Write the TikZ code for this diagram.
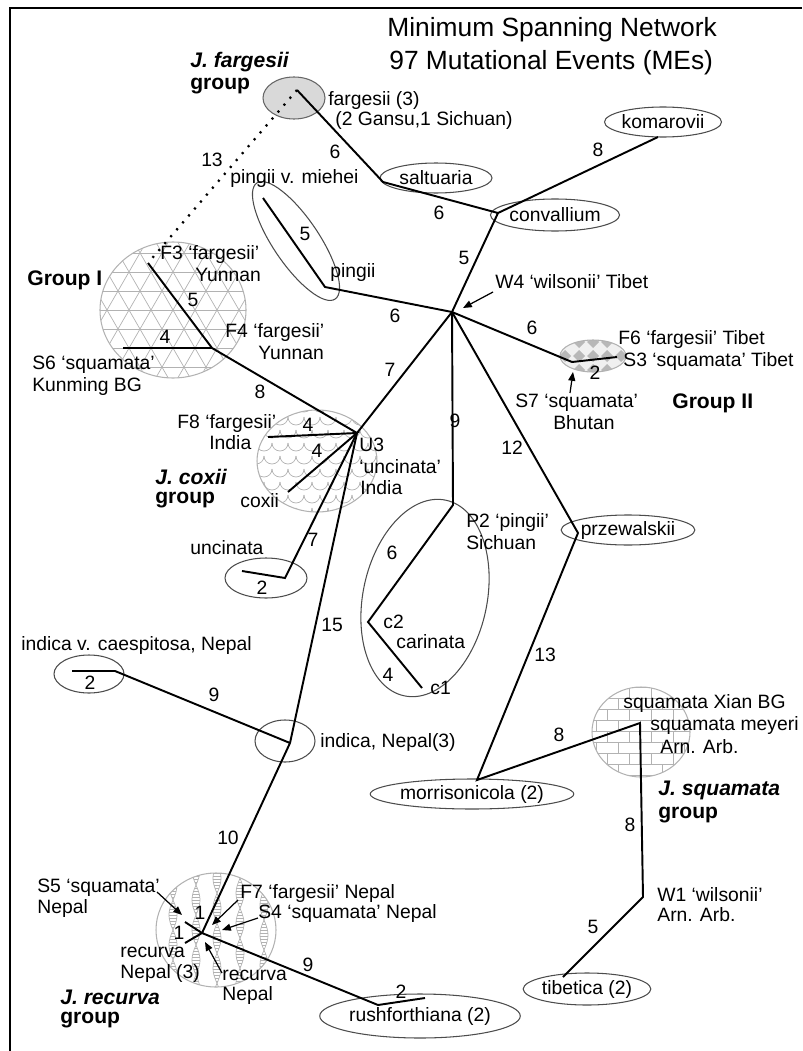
\documentclass[tikz,border=0pt]{standalone}
\usepackage{fontspec}
\setmainfont{Liberation Sans}
\usetikzlibrary{arrows.meta,shapes.geometric}
\def\px{0.02cm}

\begin{document}
\begin{tikzpicture}[x=0.02cm, y=-0.02cm,
		branch/.style={line width=1.1pt},
		pat/.style={black!30, line width=0.4pt},
		ring/.style={ellipse, draw=black!70, line width=0.6pt, inner sep=0pt},
		taxon/.style={ring, font=\fontsize{11}{12}\selectfont},
		lbl/.style={anchor=west, inner sep=0pt, font=\fontsize{11}{12}\selectfont},
		num/.style={inner sep=0pt, font=\fontsize{11}{12}\selectfont},
		grp/.style={anchor=west, inner sep=0pt, font=\fontsize{12}{13}\selectfont\bfseries},
		pointer/.style={-{Triangle[length=5pt,width=4pt]}, line width=0.7pt}]
		%%%%% START %%%%%
		
		\useasboundingbox (0,0) rectangle (802,1051);
		\draw[line width=1.2pt] (10,1051) -- (10,8) -- (802,8);
		
		\node[inner sep=0pt, font=\fontsize{15}{16}\selectfont, anchor=west] (title) at (387,30) {Minimum Spanning Network};
		\node[inner sep=0pt, font=\fontsize{15}{16}\selectfont, anchor=west] (subtitle) at (389,63) {97 Mutational Events (MEs)};
		
		% group I
		\begin{scope}
			\clip (173,310) ellipse [x radius=73, y radius=68];
			\foreach \k in {-9,...,9} {
				\draw[pat] (90,{310+\k*19.05}) -- (260,{310+\k*19.05});
				\draw[pat] ({73+\k*22},136.8) -- ++(200,346.4);
				\draw[pat] ({273+\k*22},136.8) -- ++(-200,346.4);
			}
		\end{scope}
		\node[ring, draw=black!30, minimum width=146*\px, minimum height=136*\px] (groupone) at (173,310) {};
		
		% coxii
		\begin{scope}
			\clip (317,461) ellipse [x radius=60, y radius=51];
			\foreach \r in {0,...,8}
				\foreach \c in {0,...,8}
					\draw[pat] ({248+\c*16+mod(\r,2)*8},{404+\r*13}) arc (180:0:8);
		\end{scope}
		\node[ring, draw=black!30, minimum width=120*\px, minimum height=102*\px] (coxring) at (317,461) {};
		
		% group II
		\begin{scope}
			\clip (593,356) ellipse [x radius=33, y radius=16];
			\fill[black!6] (558,338) rectangle (628,374);
			\foreach \i in {-3,...,3}
				\foreach \j in {-2,...,2}
					\fill[black!28] ({587+\i*14},{356+\j*14}) -- ++(6,6) -- ++(6,-6) -- ++(-6,-6) -- cycle;
		\end{scope}
		\node[ring, draw=black!30, minimum width=66*\px, minimum height=32*\px] (grouptwo) at (593,356) {};
		
		% squamata
		\begin{scope}
			\clip (641,732) ellipse [x radius=49, y radius=45];
			\foreach \r in {0,...,8} {
				\draw[pat] (585,{687+\r*11}) -- (700,{687+\r*11});
				\foreach \c in {0,...,5}
					\draw[pat] ({585+\c*22+mod(\r,2)*11},{687+\r*11}) -- ++(0,11);
			}
		\end{scope}
		\node[ring, draw=black!30, minimum width=98*\px, minimum height=90*\px] (squring) at (641,732) {};
		
		% recurva
		\begin{scope}
			\clip (216,930) ellipse [x radius=60, y radius=57];
			\foreach \cx/\ph in {173/0,196/90,217/40,240/130,264/60} {
				\foreach \y in {870,873,...,990}
					\draw[pat] ({\cx-4*sin(6*\y+\ph)},\y) -- ({\cx+4*sin(6*\y+\ph)},\y);
				\draw[pat] plot[domain=870:990, samples=40] ({\cx+4*sin(6*\x+\ph)},\x);
				\draw[pat] plot[domain=870:990, samples=40] ({\cx-4*sin(6*\x+\ph)},\x);
			}
		\end{scope}
		\node[ring, draw=black!30, minimum width=120*\px, minimum height=114*\px] (recring) at (216,930) {};
		
		\node[ring, fill=black!15, draw=black!60, minimum width=62*\px, minimum height=42*\px] (fargring) at (294,98) {};
		\node[ring, rotate=-56, minimum width=140*\px, minimum height=46*\px] (pingring) at (296,241) {};
		\node[ring, rotate=78, minimum width=200*\px, minimum height=124*\px] (carring) at (425,598) {};
		\node[ring, minimum width=82*\px, minimum height=40*\px] (uncring) at (266,578) {};
		\node[ring, minimum width=70*\px, minimum height=38*\px] (caesring) at (89,674) {};
		\node[ring, minimum width=60*\px, minimum height=42*\px] (indring) at (285,741) {};
		
		\node[taxon, minimum width=112*\px, minimum height=30*\px] (saltuaria) at (436,178) {saltuaria};
		\node[taxon, minimum width=114*\px, minimum height=32*\px] (convallium) at (555,215) {convallium};
		\node[taxon, minimum width=116*\px, minimum height=30*\px] (komarovii) at (663,122) {komarovii};
		\node[taxon, minimum width=126*\px, minimum height=30*\px] (przewalskii) at (628,530) {przewalskii};
		\node[taxon, minimum width=168*\px, minimum height=30*\px] (morrisonicola) at (472,794) {morrisonicola (2)};
		\node[taxon, minimum width=126*\px, minimum height=32*\px] (tibetica) at (587,989) {tibetica (2)};
		\node[taxon, minimum width=166*\px, minimum height=44*\px] (rushforthiana) at (420,1016) {rushforthiana (2)};
		
		\coordinate (farg) at (297,90);
		\coordinate (salt) at (383,182);
		\coordinate (conv) at (498,213);
		\coordinate (koma) at (658,137);
		\coordinate (wfour) at (452,312);
		\coordinate (ping) at (325,287);
		\coordinate (mieh) at (263,198);
		\coordinate (fsix) at (572,362);
		\coordinate (sthree) at (617,357);
		\coordinate (uthree) at (357,433);
		\coordinate (ptwo) at (453,505);
		\coordinate (ctwo) at (368,622);
		\coordinate (cone) at (422,688);
		\coordinate (przw) at (578,533);
		\coordinate (morr) at (477,780);
		\coordinate (xian) at (640,723);
		\coordinate (wone) at (643,897);
		\coordinate (tibe) at (563,977);
		\coordinate (fthree) at (148,263);
		\coordinate (ffour) at (212,348);
		\coordinate (ssix) at (123,348);
		\coordinate (feight) at (268,437);
		\coordinate (coxi) at (288,492);
		\coordinate (unci) at (285,578);
		\coordinate (uncend) at (242,571);
		\coordinate (indi) at (290,743);
		\coordinate (caes) at (115,671);
		\coordinate (caesend) at (72,671);
		\coordinate (recu) at (202,933);
		\coordinate (sfive) at (185,922);
		\coordinate (recnep) at (185,943);
		\coordinate (rush) at (378,1005);
		\coordinate (rushend) at (425,998);
		
		\draw[branch] (farg) -- (salt) -- (conv) -- (wfour);
		\draw[branch] (conv) -- (koma);
		\draw[line width=1.3pt, dash pattern=on 1.2pt off 4pt] (farg) -- (fthree);
		\draw[branch] (wfour) -- (ping) -- (mieh);
		\draw[branch] (wfour) -- (fsix) -- (sthree);
		\draw[branch] (wfour) -- (uthree);
		\draw[branch] (wfour) -- (ptwo) -- (ctwo) -- (cone);
		\draw[branch] (wfour) -- (przw) -- (morr) -- (xian) -- (wone) -- (tibe);
		\draw[branch] (fthree) -- (ffour) -- (uthree);
		\draw[branch] (ssix) -- (ffour);
		\draw[branch] (feight) -- (uthree) -- (coxi);
		\draw[branch] (uthree) -- (unci) -- (uncend);
		\draw[branch] (uthree) -- (indi) -- (recu) -- (rush) -- (rushend);
		\draw[branch] (indi) -- (caes) -- (caesend);
		\draw[branch] (sfive) -- (recu) -- (recnep);
		
		\coordinate (wfourarr) at (493,292);
		\coordinate (wfourtip) at (463,308);
		\coordinate (ssevenarr) at (570,393);
		\coordinate (sseventip) at (573,372);
		\coordinate (sfivearr) at (157,892);
		\coordinate (sfivetip) at (182,915);
		\coordinate (fsevenarr) at (238,900);
		\coordinate (fseventip) at (212,925);
		\coordinate (sfourarr) at (258,918);
		\coordinate (sfourtip) at (222,930);
		\coordinate (recarr) at (222,973);
		\coordinate (rectip) at (205,942);
		\draw[pointer] (wfourarr) -- (wfourtip);
		\draw[pointer] (ssevenarr) -- (sseventip);
		\draw[pointer] (sfivearr) -- (sfivetip);
		\draw[pointer] (fsevenarr) -- (fseventip);
		\draw[pointer] (sfourarr) -- (sfourtip);
		\draw[pointer] (recarr) -- (rectip);
		
		\node[num] (w1) at (335,152) {6};
		\node[num] (w2) at (439,213) {6};
		\node[num] (w3) at (598,150) {8};
		\node[num] (w4) at (464,258) {5};
		\node[num] (w5) at (305,234) {5};
		\node[num] (w6) at (212,160) {13};
		\node[num] (w7) at (395,316) {6};
		\node[num] (w8) at (532,328) {6};
		\node[num] (w9) at (595,373) {2};
		\node[num] (w10) at (193,300) {5};
		\node[num] (w11) at (165,337) {4};
		\node[num] (w12) at (260,392) {8};
		\node[num] (w13) at (390,370) {7};
		\node[num] (w14) at (308,425) {4};
		\node[num] (w15) at (317,451) {4};
		\node[num] (w16) at (455,421) {9};
		\node[num] (w17) at (512,448) {12};
		\node[num] (w18) at (313,540) {7};
		\node[num] (w19) at (262,588) {2};
		\node[num] (w20) at (332,625) {15};
		\node[num] (w21) at (392,553) {6};
		\node[num] (w22) at (388,675) {4};
		\node[num] (w23) at (90,683) {2};
		\node[num] (w24) at (214,695) {9};
		\node[num] (w25) at (545,655) {13};
		\node[num] (w26) at (559,735) {8};
		\node[num] (w27) at (630,825) {8};
		\node[num] (w28) at (593,927) {5};
		\node[num] (w29) at (228,838) {10};
		\node[num] (w30) at (200,913) {1};
		\node[num] (w31) at (179,933) {1};
		\node[num] (w32) at (308,965) {9};
		\node[num] (w33) at (401,992) {2};
		
		\node[grp, font=\fontsize{12}{13}\selectfont\bfseries\itshape] (fargname) at (190,62) {J. fargesii};
		\node[grp] (fargword) at (190,86) {group};
		\node[lbl] (fargtxt) at (328,101) {fargesii (3)};
		\node[lbl] (fargsub) at (335,120) {(2 Gansu,1 Sichuan)};
		\node[lbl] (miehtxt) at (230,179) {pingii v. miehei};
		\node[lbl] (pingtxt) at (330,273) {pingii};
		\node[lbl] (wfourtxt) at (495,282) {W4 `wilsonii' Tibet};
		\node[lbl] (fsixtxt) at (618,340) {F6 `fargesii' Tibet};
		\node[lbl] (sthreetxt) at (623,362) {S3 `squamata' Tibet};
		\node[lbl] (seventxt) at (515,403) {S7 `squamata'};
		\node[lbl] (sevensub) at (553,423) {Bhutan};
		\node[grp] (grouptwotxt) at (672,403) {Group II};
		\node[lbl] (fthreetxt) at (160,255) {F3 `fargesii'};
		\node[lbl] (fthreesub) at (195,275) {Yunnan};
		\node[grp] (grouponetxt) at (27,280) {Group I};
		\node[lbl] (ffourtxt) at (225,332) {F4 `fargesii'};
		\node[lbl] (ffoursub) at (258,353) {Yunnan};
		\node[lbl] (ssixtxt) at (32,365) {S6 `squamata'};
		\node[lbl] (ssixsub) at (32,386) {Kunming BG};
		\node[lbl] (feighttxt) at (177,423) {F8 `fargesii'};
		\node[lbl] (feightsub) at (209,443) {India};
		\node[grp, font=\fontsize{12}{13}\selectfont\bfseries\itshape] (coxname) at (155,477) {J. coxii};
		\node[grp] (coxword) at (155,500) {group};
		\node[lbl] (coxtxt) at (240,501) {coxii};
		\node[lbl] (uthreetxt) at (359,445) {U3};
		\node[lbl] (uthreesub) at (359,467) {`uncinata'};
		\node[lbl] (uthreeind) at (360,488) {India};
		\node[lbl] (uncitxt) at (190,548) {uncinata};
		\node[lbl] (caestxt) at (21,645) {indica v. caespitosa, Nepal};
		\node[lbl] (inditxt) at (320,742) {indica, Nepal(3)};
		\node[lbl] (ptwotxt) at (466,522) {P2 `pingii'};
		\node[lbl] (ptwosub) at (466,543) {Sichuan};
		\node[lbl] (ctwotxt) at (383,622) {c2};
		\node[lbl] (cartxt) at (396,642) {carinata};
		\node[lbl] (conetxt) at (430,688) {c1};
		\node[lbl] (xiantxt) at (623,703) {squamata Xian BG};
		\node[lbl] (meyertxt) at (650,725) {squamata meyeri};
		\node[lbl] (meyersub) at (660,747) {Arn. Arb.};
		\node[grp, font=\fontsize{12}{13}\selectfont\bfseries\itshape] (squname) at (658,790) {J. squamata};
		\node[grp] (squword) at (658,815) {group};
		\node[lbl] (wonetxt) at (657,895) {W1 `wilsonii'};
		\node[lbl] (wonesub) at (657,915) {Arn. Arb.};
		\node[lbl] (sfivetxt) at (37,888) {S5 `squamata'};
		\node[lbl] (sfivesub) at (37,908) {Nepal};
		\node[lbl] (fseventxt) at (240,893) {F7 `fargesii' Nepal};
		\node[lbl] (sfourtxt) at (258,913) {S4 `squamata' Nepal};
		\node[lbl] (recutxt) at (120,952) {recurva};
		\node[lbl] (recusub) at (120,973) {Nepal (3)};
		\node[lbl] (recntxt) at (222,975) {recurva};
		\node[lbl] (recnsub) at (222,995) {Nepal};
		\node[grp, font=\fontsize{12}{13}\selectfont\bfseries\itshape] (recname) at (60,997) {J. recurva};
		\node[grp] (recword) at (60,1020) {group};
		
		%%%%% END %%%%%
	\end{tikzpicture}
\end{document}
